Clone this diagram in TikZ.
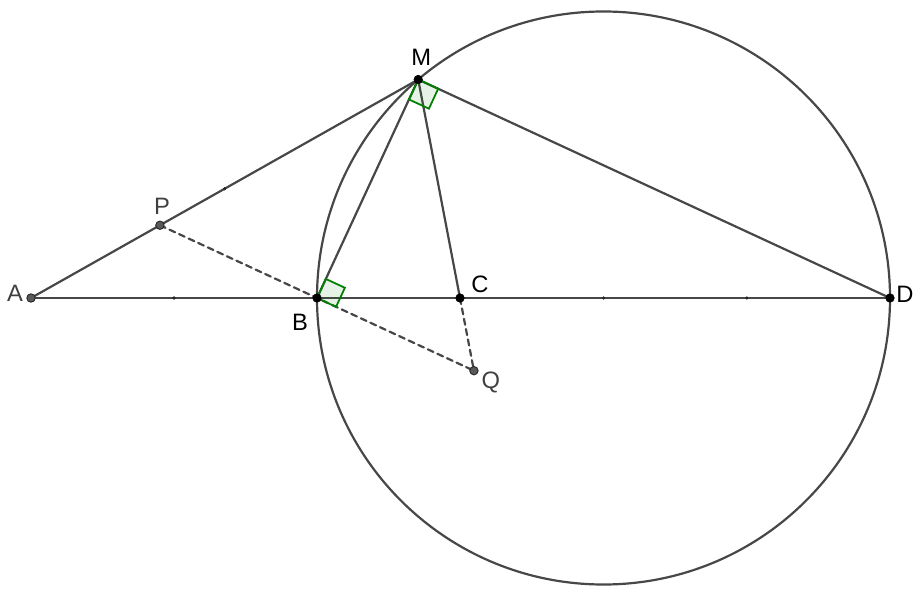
\documentclass[tikz,border=0pt]{standalone}
\usepackage{fontspec}
\setmainfont{Liberation Sans}
\usepackage{tikz}
\usetikzlibrary{calc}

\begin{document}
\begin{tikzpicture}[line width=1.25pt, line cap=round,
    seg/.style={draw=black!72},
    aux/.style={draw=black!72, dash pattern=on 3.5pt off 2.5pt},
    dotb/.style={fill=black, draw=black, line width=0.4pt},
    dotg/.style={fill=black!65, draw=black!85, line width=0.5pt},
    lbl/.style={font=\fontsize{13.5}{15}\selectfont, inner sep=0pt},
    rmark/.style={draw=green!50!black, fill=green!50!black, fill opacity=0.1, line width=1pt, line join=miter}]
    \useasboundingbox (0,0) rectangle (18.36,-11.84);
    \def\R{5.73}
    \def\yl{-5.96}
    % Points
    \coordinate (A) at (0.62,\yl);
    \coordinate (O) at (12.07,\yl);
    \coordinate (B) at ($(O)+(-\R,0)$);
    \coordinate (D) at ($(O)+(\R,0)$);
    \coordinate (C) at (9.2,\yl);
    \coordinate (M) at ($(O)+(130.3:\R)$);
    \coordinate (Bp) at ($(B)!1!90:(M)$);
    \coordinate (P) at (intersection of B--Bp and A--M);
    \coordinate (Q) at (intersection of B--Bp and M--C);
    % Circle
    \draw[seg] (O) circle (\R);
    % Segments
    \draw[seg] (A) -- (D);
    \draw[seg] (A) -- (M);
    \draw[seg] (M) -- (B);
    \draw[seg] (M) -- (C);
    \draw[seg] (M) -- (D);
    \draw[aux] (P) -- (Q);
    \draw[aux] (C) -- (Q);
    % Right angles
    \coordinate (mb) at ($(M)!0.44cm!(B)$);
    \coordinate (md) at ($(M)!0.44cm!(D)$);
    \draw[rmark] (M) -- (mb) -- ($(mb)+(md)-(M)$) -- (md) -- cycle;
    \coordinate (bm) at ($(B)!0.42cm!(M)$);
    \coordinate (bq) at ($(B)!0.42cm!(Q)$);
    \draw[rmark] (B) -- (bm) -- ($(bm)+(bq)-(B)$) -- (bq) -- cycle;
    % Small marks
    \foreach \pt in {($(A)!0.5!(B)$), (O), ($(O)!0.5!(D)$), ($(A)!0.5!(M)$)}
      \fill[black!85] \pt circle (1pt);
    % Dots
    \foreach \pt in {A,P,Q}
      \filldraw[dotg] (\pt) circle (2.4pt);
    \foreach \pt in {B,C,D,M}
      \filldraw[dotb] (\pt) circle (2.4pt);
    % Node labels
    \node[lbl, text=black!75] (lA) at ($(A)+(-0.32,0.1)$) {A};
    \node[lbl, text=black!75] (lP) at ($(P)+(0.04,0.38)$) {P};
    \node[lbl, text=black!75] (lQ) at ($(Q)+(0.34,-0.24)$) {Q};
    \node[lbl] (lB) at ($(B)+(-0.34,-0.48)$) {B};
    \node[lbl] (lC) at ($(C)+(0.40,0.28)$) {C};
    \node[lbl] (lD) at ($(D)+(0.30,0.08)$) {D};
    \node[lbl] (lM) at ($(M)+(0.06,0.44)$) {M};
\end{tikzpicture}
\end{document}
